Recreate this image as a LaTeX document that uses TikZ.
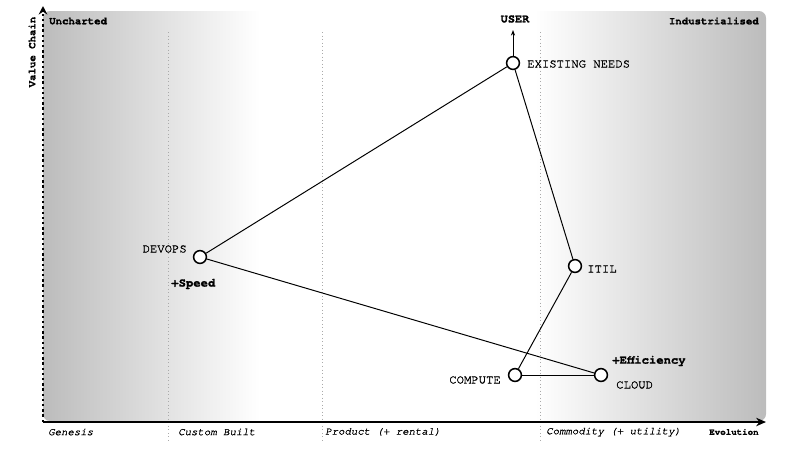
\documentclass[tikz,border=0pt]{standalone}
\usepackage{fontspec}
\setmonofont{texgyrecursor}[Extension=.otf, UprightFont=*-regular, BoldFont=*-bold, ItalicFont=*-italic, BoldItalicFont=*-bolditalic, UprightFeatures={FakeBold=1.3}, ItalicFeatures={FakeBold=1.1}, BoldFeatures={FakeBold=1.2}]
\usepackage{tikz}
\usetikzlibrary{arrows.meta, positioning}
\definecolor{edgegrey}{RGB}{188,188,188}
\definecolor{gridgrey}{RGB}{170,170,170}
\pgfdeclarehorizontalshading{evolution}{100bp}{color(0bp)=(edgegrey); color(25bp)=(edgegrey); color(40bp)=(white); color(59bp)=(white); color(75bp)=(edgegrey); color(100bp)=(edgegrey)}

\begin{document}
\begin{tikzpicture}[x=0.025cm, y=-0.025cm,
  >=Stealth,
  comp/.style={
    circle, draw=black, line width=1.1pt, fill=white,
    inner sep=0pt, minimum size=3.2mm,
  },
  lbl/.style={
    inner sep=0pt, font=\ttfamily\fontsize{8.7}{10}\selectfont,
  },
  boldlbl/.style={
    inner sep=0pt, font=\ttfamily\bfseries\fontsize{8.7}{10}\selectfont,
  },
  stagelbl/.style={
    inner sep=0pt, anchor=west, font=\ttfamily\itshape\fontsize{7.6}{9}\selectfont,
  },
  axislbl/.style={
    inner sep=0pt, font=\ttfamily\bfseries\fontsize{7.6}{9}\selectfont,
  },
  divider/.style={
    draw=gridgrey, dotted, line width=0.5pt,
  },
  link/.style={
    draw=black, line width=0.7pt,
  },
]
\useasboundingbox (0,0) rectangle (800,450);

% --- Map background ---
\shade[shading=evolution, rounded corners=5pt] (43,11) rectangle (766,421);

% --- Stage dividers ---
\foreach \xpos in {168, 322, 540} {
  \draw[divider] (\xpos,32) -- (\xpos,441);
}

% --- Axes ---
\draw[line width=1.7pt, dotted, -{Stealth[length=6pt, width=6pt]}] (43,422) -- (43,6);
\draw[line width=1.2pt, -{Stealth[length=7pt, width=6pt]}] (43,422) -- (766,422);

% --- Axis labels ---
\node[axislbl, anchor=west] (uncharted) at (49,21) {Uncharted};
\node[axislbl, anchor=east] (industrial) at (759,21) {Industrialised};
\node[axislbl, rotate=90] (valuechain) at (32,52) {Value Chain};
\node[axislbl, anchor=west, font=\ttfamily\bfseries\fontsize{6.5}{8}\selectfont] (evolution) at (709,432) {Evolution};

\node[stagelbl] (genesis) at (48,432) {Genesis};
\node[stagelbl] (custom) at (178,432) {Custom Built};
\node[stagelbl] (product) at (325,432) {Product (+ rental)};
\node[stagelbl] (commodity) at (546,432) {Commodity (+ utility)};

% --- Components ---
\node[comp] (needs) at (513,63) {};
\node[comp] (devops) at (200,257) {};
\node[comp] (itil) at (575,266) {};
\node[comp] (compute) at (515,375) {};
\node[comp] (cloud) at (601,375) {};
\coordinate (user) at (513,30);

% --- Component labels ---
\node[boldlbl, font=\ttfamily\bfseries\fontsize{8.5}{10}\selectfont] (userlbl) at (515,19) {USER};
\node[lbl, anchor=west] (needslbl) at (527,64) {EXISTING NEEDS};
\node[lbl, anchor=east] (devopslbl) at (187,249) {DEVOPS};
\node[boldlbl, anchor=west] (speed) at (171,284) {+Speed};
\node[lbl, anchor=west] (itillbl) at (587,269) {ITIL};
\node[lbl, anchor=east] (computelbl) at (501,380) {COMPUTE};
\node[lbl, anchor=west] (cloudlbl) at (616,385) {CLOUD};
\node[boldlbl, anchor=west] (efficiency) at (612,361) {+Efficiency};

% --- Links ---
\draw[link, -{Stealth[length=4pt, width=3pt]}] (needs) -- (user);
\draw[link] (needs) -- (devops);
\draw[link] (needs) -- (itil);
\draw[link] (itil) -- (compute);
\draw[link] (compute) -- (cloud);
\draw[link] (devops) -- (cloud);

\end{tikzpicture}
\end{document}
